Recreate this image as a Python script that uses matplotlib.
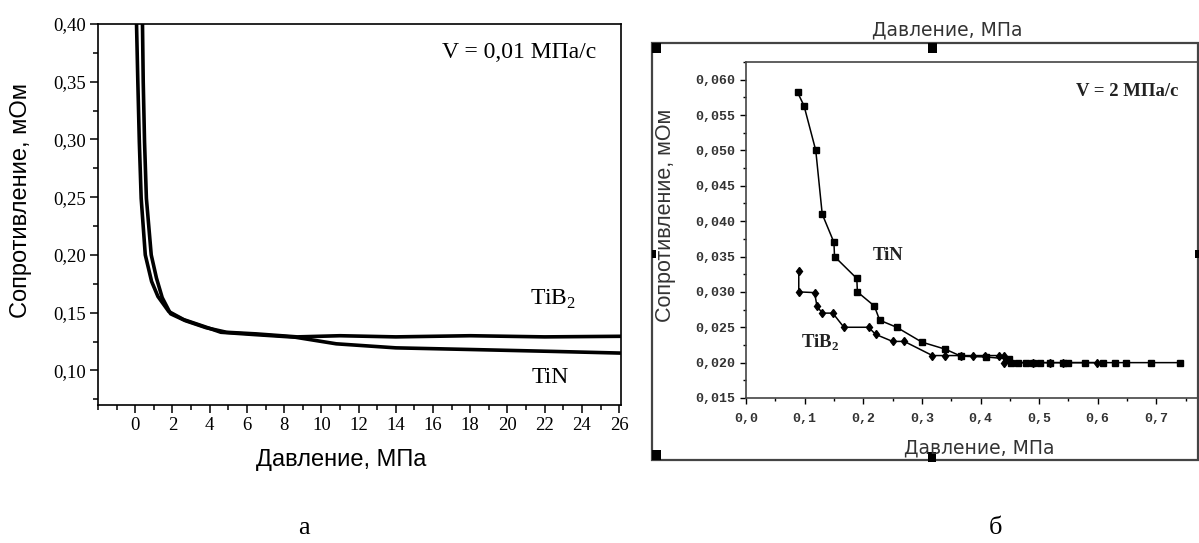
import matplotlib
matplotlib.use("Agg")
import matplotlib.pyplot as plt
from matplotlib.patches import Rectangle
from matplotlib.ticker import MultipleLocator, FuncFormatter

plt.rcParams["mathtext.fontset"] = "custom"
plt.rcParams["mathtext.rm"] = "Liberation Serif"
plt.rcParams["mathtext.bf"] = "Liberation Serif:bold"

# панель а: V = 0,01 МПа/с
tib2_x = [0.39, 0.43, 0.50, 0.60, 0.86, 1.14, 1.45, 1.9, 2.7, 3.8, 4.9, 6.5, 8.7, 11, 14, 18, 22, 26]
tib2_y = [0.40, 0.35, 0.298, 0.249, 0.20, 0.18, 0.163, 0.149, 0.143, 0.137, 0.133, 0.1316, 0.129,
          0.130, 0.129, 0.130, 0.129, 0.1295]
tin_x = [0.07, 0.14, 0.22, 0.32, 0.54, 0.88, 1.22, 1.8, 2.6, 3.7, 4.6, 6.4, 8.6, 10.8, 14, 18.2, 22.5, 26]
tin_y = [0.40, 0.35, 0.298, 0.249, 0.20, 0.177, 0.164, 0.151, 0.144, 0.138, 0.133, 0.131, 0.1287,
         0.123, 0.1195, 0.118, 0.1164, 0.115]

# панель б: V = 2 МПа/с
tin2_x = [0.088, 0.099, 0.119, 0.130, 0.150, 0.151, 0.189, 0.190, 0.219, 0.228, 0.257, 0.300, 0.340,
          0.367, 0.410, 0.449, 0.452, 0.464, 0.477, 0.489, 0.501, 0.519, 0.540, 0.550, 0.579, 0.609,
          0.629, 0.648, 0.690, 0.740]
tin2_y = [0.0582, 0.0563, 0.050, 0.041, 0.037, 0.035, 0.0319, 0.030, 0.028, 0.026, 0.025, 0.0229,
          0.0219, 0.0209, 0.0208, 0.0205, 0.020, 0.020, 0.020, 0.020, 0.020, 0.020, 0.020, 0.020,
          0.020, 0.020, 0.020, 0.020, 0.020, 0.020]
tib22_x = [0.090, 0.090, 0.117, 0.121, 0.130, 0.148, 0.167, 0.209, 0.221, 0.250, 0.270, 0.318, 0.340,
           0.367, 0.388, 0.408, 0.431, 0.440, 0.440, 0.489, 0.519, 0.540, 0.598]
tib22_y = [0.033, 0.030, 0.0299, 0.028, 0.027, 0.027, 0.025, 0.025, 0.024, 0.023, 0.023, 0.021,
           0.021, 0.021, 0.021, 0.021, 0.021, 0.021, 0.020, 0.020, 0.020, 0.020, 0.020]
b_xticks = [0.0, 0.1, 0.2, 0.3, 0.4, 0.5, 0.6, 0.7]

W, H = 1199, 543
fig = plt.figure(figsize=(W / 100, H / 100), dpi=100)


def box(l, t, r, b):
    return [l / W, 1 - b / H, (r - l) / W, (b - t) / H]


def ftext(x, y, s, **kw):
    # позиция в пикселях от верхнего левого угла
    return fig.text(x / W, 1 - y / H, s, ha="center", va="center", **kw)


serif = "Liberation Serif"
sans = "Liberation Sans"
mono = "Liberation Mono"
comma = FuncFormatter(lambda v, p: f"{v:.2f}".replace(".", ","))

# ---- панель а
ax = fig.add_axes(box(98, 24, 621, 405))
ax.plot(tin_x, tin_y, color="k", lw=2.6)
ax.plot(tib2_x, tib2_y, color="k", lw=2.6)
ax.set_xlim(-2, 26.1)
ax.set_ylim(0.07, 0.40)
ax.xaxis.set_minor_locator(MultipleLocator(1))
ax.yaxis.set_major_locator(MultipleLocator(0.05))
ax.yaxis.set_minor_locator(MultipleLocator(0.025))
ax.set_xticks(list(range(0, 27, 2)))
ax.yaxis.set_major_formatter(comma)
ax.tick_params(which="major", length=6, width=1.1, labelsize=13.5, pad=3)
ax.tick_params(which="minor", length=3.5, width=1.1)
for lab in ax.get_xticklabels() + ax.get_yticklabels():
    lab.set_fontfamily(serif)
for s in ax.spines.values():
    s.set_linewidth(1.2)
ftext(519, 53, "V = 0,01 МПа/с", fontsize=17, family=serif)
ax.text(21.2, 0.162, r"$\mathrm{TiB}_2$", fontsize=17, ha="left", va="center")
ax.text(21.3, 0.094, "TiN", fontsize=17, family=serif, ha="left", va="center")
ftext(341, 460, "Давление, МПа", fontsize=17, family=sans)
ftext(21, 200, "Сопротивление, мОм", rotation=90, fontsize=17, family=sans)
ftext(304, 528, "а", fontsize=19, family=serif)

# ---- панель б (рамка слоя Origin)
gray = "#333333"
fig.patches.append(Rectangle((652 / W, 1 - 460 / H), (1198 - 652) / W, (460 - 43) / H,
                             transform=fig.transFigure, fill=False, ec="#444444", lw=1.6))
for (hx, hy, hw, hh) in [(652, 43, 9, 10), (928, 43, 9, 10), (652, 450, 9, 10), (928, 452, 8, 10),
                         (652, 250, 4, 8), (1195, 250, 4, 8)]:
    fig.patches.append(Rectangle((hx / W, 1 - (hy + hh) / H), hw / W, hh / H,
                                 transform=fig.transFigure, color="k", lw=0))

bx = fig.add_axes(box(746, 62, 1215, 398))
bx.plot(tin2_x, tin2_y, color="k", lw=1.1, marker="s", ms=4)
bx.plot(tib22_x, tib22_y, color="k", lw=1.1, marker="d", ms=4.5)
bx.set_xlim(0, 0.8)
bx.set_ylim(0.015, 0.0625)
bx.set_xticks(b_xticks)
bx.xaxis.set_minor_locator(MultipleLocator(0.05))
bx.yaxis.set_major_locator(MultipleLocator(0.005))
bx.yaxis.set_minor_locator(MultipleLocator(0.0025))
bx.xaxis.set_major_formatter(FuncFormatter(lambda v, p: f"{v:.1f}".replace(".", ",")))
bx.yaxis.set_major_formatter(FuncFormatter(lambda v, p: f"{v:.3f}".replace(".", ",")))
bx.spines["right"].set_visible(False)
bx.tick_params(which="major", length=4, width=1, labelsize=9.5, colors="k", labelcolor=gray)
bx.tick_params(axis="x", which="major", pad=7)
bx.tick_params(axis="y", which="major", pad=4)
bx.tick_params(which="minor", length=2.5, width=1)
for lab in bx.get_xticklabels() + bx.get_yticklabels():
    lab.set_fontfamily(mono)
    lab.set_fontweight("bold")
for s in bx.spines.values():
    s.set_linewidth(1.2)
    s.set_color("#444444")
ftext(1127, 92, "V = 2 МПа/с", fontsize=13.5, family=serif, fontweight="bold", color="#222222")
ftext(888, 255, "TiN", fontsize=13.5, family=serif, fontweight="bold", color="#222222")
ftext(820, 343, r"$\mathbf{TiB}_\mathbf{2}$", fontsize=13.5, color="#222222")
ftext(947, 30, "Давление, МПа", fontsize=13.5, family="DejaVu Sans", color=gray)
ftext(979, 448, "Давление, МПа", fontsize=13.5, family="DejaVu Sans", color=gray)
ftext(665, 215, "Сопротивление, мОм", rotation=90, fontsize=15.5, family=sans, color=gray)
ftext(996, 528, "б", fontsize=19, family=serif)

fig.savefig("out.png", dpi=100)
